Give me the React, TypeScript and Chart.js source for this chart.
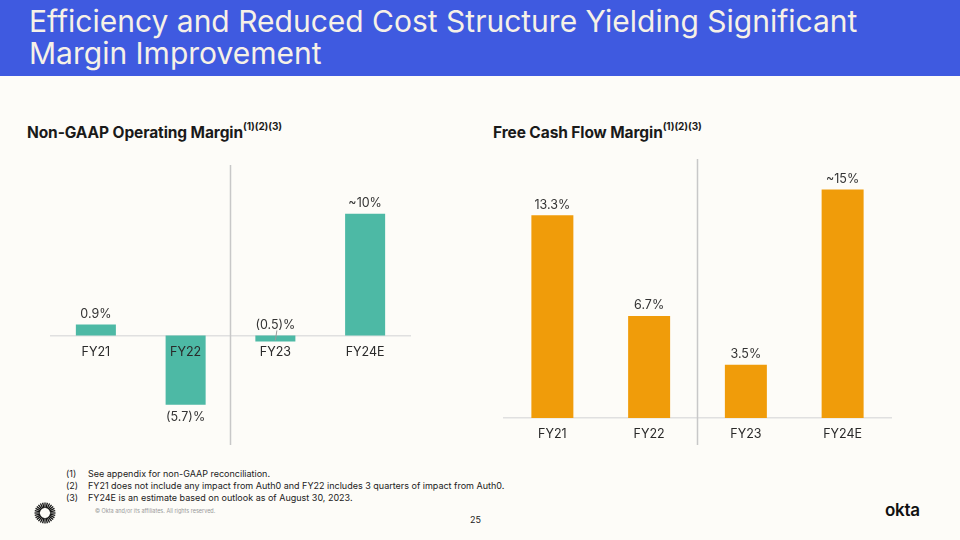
import React, { useEffect, useRef } from "react";
import { Chart, registerables } from "chart.js";

Chart.register(...registerables);

// ---- Data ----
const categories = ["FY21", "FY22", "FY23", "FY24E"];
const opMarginValues = [0.9, -5.7, -0.5, 10];
const opMarginLabels = ["0.9%", "(5.7)%", "(0.5)%", "~10%"];
const fcfMarginValues = [13.3, 6.7, 3.5, 15];
const fcfMarginLabels = ["13.3%", "6.7%", "3.5%", "~15%"];
const opMarginRange = [-9, 14];
const fcfMarginRange = [0, 17];

const FONT = "Inter, 'Liberation Sans', sans-serif";
const BG = "#fdfcf8";

const valueLabelPlugin = {
  id: "valueLabels",
  afterDatasetsDraw(chart: any, _args: any, opts: any) {
    const { ctx } = chart;
    const meta = chart.getDatasetMeta(0);
    const data = chart.data.datasets[0].data as number[];
    ctx.save();
    ctx.font = `12.5px ${FONT}`;
    ctx.fillStyle = "#333";
    ctx.textAlign = "center";
    meta.data.forEach((bar: any, i: number) => {
      const { x, y, base } = bar.getProps(["x", "y", "base"], true);
      const v = data[i];
      const label = opts.labels[i];
      if (i === opts.leaderIndex) {
        ctx.textBaseline = "bottom";
        ctx.fillText(label, x, base - 4);
        ctx.strokeStyle = "#9a9a9a";
        ctx.lineWidth = 1;
        ctx.beginPath();
        ctx.moveTo(x + 1.5, base - 5);
        ctx.lineTo(x, base + 5);
        ctx.stroke();
      } else if (v >= 0) {
        ctx.textBaseline = "bottom";
        ctx.fillText(label, x, y - 4);
      } else {
        ctx.textBaseline = "top";
        ctx.fillText(label, x, y + 6);
      }
    });
    ctx.restore();
  },
};

const dividerPlugin = {
  id: "divider",
  beforeDatasetsDraw(chart: any, _args: any, opts: any) {
    const { ctx, chartArea } = chart;
    const xs = chart.scales.x;
    const x = (xs.getPixelForValue(1) + xs.getPixelForValue(2)) / 2;
    ctx.save();
    ctx.strokeStyle = "#c8c8c8";
    ctx.lineWidth = 1.5;
    ctx.beginPath();
    ctx.moveTo(x, chartArea.top);
    ctx.lineTo(x, chartArea.bottom + (opts.extendBottom || 0));
    ctx.stroke();
    ctx.restore();
  },
};

function BarChart(props: {
  values: number[];
  labels: string[];
  range: number[];
  color: string;
  padding: any;
  barPct: number;
  leaderIndex: number;
  extendBottom: number;
}) {
  const ref = useRef<HTMLCanvasElement>(null);
  useEffect(() => {
    if (!ref.current) return;
    const chart = new Chart(ref.current, {
      type: "bar",
      data: {
        labels: categories,
        datasets: [
          {
            data: props.values,
            backgroundColor: props.color,
            borderWidth: 0,
            barPercentage: props.barPct,
            categoryPercentage: 1,
          },
        ],
      },
      options: {
        animation: false,
        responsive: false,
        maintainAspectRatio: false,
        layout: { padding: props.padding },
        plugins: {
          legend: { display: false },
          tooltip: { enabled: false },
          valueLabels: { labels: props.labels, leaderIndex: props.leaderIndex },
          divider: { extendBottom: props.extendBottom },
        } as any,
        scales: {
          x: {
            position: { y: 0 } as any,
            grid: { display: false, drawTicks: false },
            border: { display: true, color: "#e0e0e0", width: 1.5 },
            ticks: {
              z: 2,
              padding: 9,
              color: "#2a2a2a",
              font: { family: FONT, size: 12.5 },
            } as any,
          },
          y: {
            display: false,
            min: props.range[0],
            max: props.range[1],
          },
        },
      },
      plugins: [valueLabelPlugin, dividerPlugin],
    });
    return () => chart.destroy();
  }, []);
  return <canvas ref={ref} width={480} height={310} style={{ display: "block" }} />;
}

function Starburst() {
  const rays = [];
  for (let i = 0; i < 28; i++) {
    const a = (i / 28) * Math.PI * 2;
    rays.push(
      <line
        key={i}
        x1={11 + Math.cos(a) * 5}
        y1={11 + Math.sin(a) * 5}
        x2={11 + Math.cos(a) * 10.5}
        y2={11 + Math.sin(a) * 10.5}
        stroke="#111"
        strokeWidth={1.3}
      />
    );
  }
  return (
    <svg width={22} height={22} style={{ position: "absolute", left: 34, top: 502 }}>
      {rays}
    </svg>
  );
}

export default function App() {
  const sup: React.CSSProperties = { fontSize: 10, verticalAlign: "top", position: "relative", top: -3, fontWeight: 700 };
  const chartTitle: React.CSSProperties = {
    position: "absolute",
    top: 123,
    fontFamily: FONT,
    fontWeight: 700,
    fontSize: 15.5,
    color: "#1a1a1a",
    whiteSpace: "nowrap",
    letterSpacing: -0.1,
  };
  const foot: React.CSSProperties = { position: "absolute", fontFamily: FONT, fontSize: 9, color: "#222", whiteSpace: "nowrap" };
  return (
    <div style={{ position: "absolute", left: 0, top: 0, width: 960, height: 540, background: BG, overflow: "hidden" }}>
      <div style={{ position: "absolute", left: 0, top: 0, width: 960, height: 76, background: "#3f5ae0" }} />
      <div
        style={{
          position: "absolute",
          left: 29,
          top: 5,
          fontFamily: FONT,
          fontSize: 30,
          lineHeight: "32px",
          color: "#f6f1e7",
          whiteSpace: "nowrap",
          fontWeight: 400,
        }}
      >
        Efficiency and Reduced Cost Structure Yielding Significant
        <br />
        Margin Improvement
      </div>

      <div style={{ ...chartTitle, left: 27 }}>
        Non-GAAP Operating Margin<span style={sup}>(1)(2)(3)</span>
      </div>
      <div style={{ ...chartTitle, left: 493 }}>
        Free Cash Flow Margin<span style={sup}>(1)(2)(3)</span>
      </div>

      <div style={{ position: "absolute", left: 0, top: 150 }}>
        <BarChart
          values={opMarginValues}
          labels={opMarginLabels}
          range={opMarginRange}
          color="#4db9a5"
          padding={{ left: 51, right: 70, top: 15, bottom: 15 }}
          barPct={0.446}
          leaderIndex={2}
          extendBottom={0}
        />
      </div>
      <div style={{ position: "absolute", left: 480, top: 150 }}>
        <BarChart
          values={fcfMarginValues}
          labels={fcfMarginLabels}
          range={fcfMarginRange}
          color="#f09c0a"
          padding={{ left: 24, right: 69, top: 9, bottom: 42 }}
          barPct={0.434}
          leaderIndex={-1}
          extendBottom={27}
        />
      </div>

      <div style={{ ...foot, left: 66, top: 468 }}>(1)</div>
      <div style={{ ...foot, left: 88, top: 468 }}>See appendix for non-GAAP reconciliation.</div>
      <div style={{ ...foot, left: 66, top: 480 }}>(2)</div>
      <div style={{ ...foot, left: 88, top: 480 }}>
        FY21 does not include any impact from Auth0 and FY22 includes 3 quarters of impact from Auth0.
      </div>
      <div style={{ ...foot, left: 66, top: 492 }}>(3)</div>
      <div style={{ ...foot, left: 88, top: 492 }}>FY24E is an estimate based on outlook as of August 30, 2023.</div>
      <div style={{ ...foot, left: 95, top: 508, fontSize: 5.5, color: "#999" }}>
        © Okta and/or its affiliates. All rights reserved.
      </div>
      <div style={{ ...foot, left: 470, top: 514, fontSize: 9 }}>25</div>
      <Starburst />
      <div
        style={{
          position: "absolute",
          left: 885,
          top: 500,
          fontFamily: FONT,
          fontSize: 17,
          fontWeight: 600,
          color: "#111",
          letterSpacing: -0.3,
        }}
      >
        okta
      </div>
    </div>
  );
}
